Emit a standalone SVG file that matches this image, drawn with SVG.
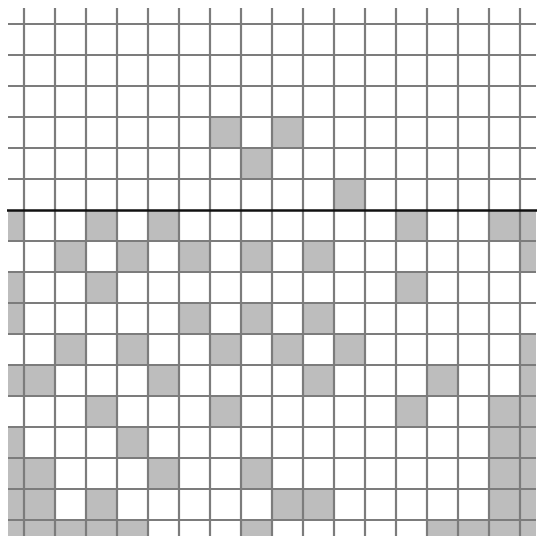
<svg xmlns="http://www.w3.org/2000/svg" width="538" height="538" viewBox="0 0 538 538">
<style>
.c{fill:#bdbdbd}
.g{stroke:#7c7c7c;stroke-width:2.2;fill:none}
.b{stroke:#111;stroke-width:2.6;fill:none}
</style>
<defs>
<rect id="f" class="c" width="31" height="31"/>
<rect id="l" class="c" width="16" height="31"/>
<rect id="r" class="c" width="16" height="31"/>
<rect id="bf" class="c" width="31" height="16"/>
<rect id="bl" class="c" width="16" height="16"/>
</defs>
<rect width="538" height="538" fill="#fff"/>
<g id="cells">
<!-- row 3 y=117 -->
<use href="#f" x="210" y="117"/><use href="#f" x="272" y="117"/>
<!-- row 4 y=148 -->
<use href="#f" x="241" y="148"/>
<!-- row 5 y=179 -->
<use href="#f" x="334" y="179"/>
<!-- row 6 y=210 -->
<use href="#l" x="8" y="210"/><use href="#f" x="86" y="210"/><use href="#f" x="148" y="210"/><use href="#f" x="396" y="210"/><use href="#f" x="489" y="210"/><use href="#r" x="520" y="210"/>
<!-- row 7 y=241 -->
<use href="#f" x="55" y="241"/><use href="#f" x="117" y="241"/><use href="#f" x="179" y="241"/><use href="#f" x="241" y="241"/><use href="#f" x="303" y="241"/><use href="#r" x="520" y="241"/>
<!-- row 8 y=272 -->
<use href="#l" x="8" y="272"/><use href="#f" x="86" y="272"/><use href="#f" x="396" y="272"/>
<!-- row 9 y=303 -->
<use href="#l" x="8" y="303"/><use href="#f" x="179" y="303"/><use href="#f" x="241" y="303"/><use href="#f" x="303" y="303"/>
<!-- row 10 y=334 -->
<use href="#f" x="55" y="334"/><use href="#f" x="117" y="334"/><use href="#f" x="210" y="334"/><use href="#f" x="272" y="334"/><use href="#f" x="334" y="334"/><use href="#r" x="520" y="334"/>
<!-- row 11 y=365 -->
<use href="#l" x="8" y="365"/><use href="#f" x="24" y="365"/><use href="#f" x="148" y="365"/><use href="#f" x="303" y="365"/><use href="#f" x="427" y="365"/><use href="#r" x="520" y="365"/>
<!-- row 12 y=396 -->
<use href="#f" x="86" y="396"/><use href="#f" x="210" y="396"/><use href="#f" x="396" y="396"/><use href="#f" x="489" y="396"/><use href="#r" x="520" y="396"/>
<!-- row 13 y=427 -->
<use href="#l" x="8" y="427"/><use href="#f" x="117" y="427"/><use href="#f" x="489" y="427"/><use href="#r" x="520" y="427"/>
<!-- row 14 y=458 -->
<use href="#l" x="8" y="458"/><use href="#f" x="24" y="458"/><use href="#f" x="148" y="458"/><use href="#f" x="241" y="458"/><use href="#f" x="489" y="458"/><use href="#r" x="520" y="458"/>
<!-- row 15 y=489 -->
<use href="#l" x="8" y="489"/><use href="#f" x="24" y="489"/><use href="#f" x="86" y="489"/><use href="#f" x="272" y="489"/><use href="#f" x="303" y="489"/><use href="#f" x="489" y="489"/><use href="#r" x="520" y="489"/>
<!-- row 16 y=520 -->
<use href="#bl" x="8" y="520"/><use href="#bf" x="24" y="520"/><use href="#bf" x="55" y="520"/><use href="#bf" x="86" y="520"/><use href="#bf" x="117" y="520"/><use href="#bf" x="241" y="520"/><use href="#bf" x="427" y="520"/><use href="#bf" x="458" y="520"/><use href="#bf" x="489" y="520"/><use href="#bl" x="520" y="520"/>
</g>
<g id="grid" class="g">
<path d="M24 8V536M55 8V536M86 8V536M117 8V536M148 8V536M179 8V536M210 8V536M241 8V536M272 8V536M303 8V536M334 8V536M365 8V536M396 8V536M427 8V536M458 8V536M489 8V536M520 8V536"/>
<path d="M8 24H536M8 55H536M8 86H536M8 117H536M8 148H536M8 179H536M8 241H536M8 272H536M8 303H536M8 334H536M8 365H536M8 396H536M8 427H536M8 458H536M8 489H536M8 520H536"/>
</g>
<g id="divider">
<path class="b" d="M7 210.5H537"/>
</g>
</svg>
